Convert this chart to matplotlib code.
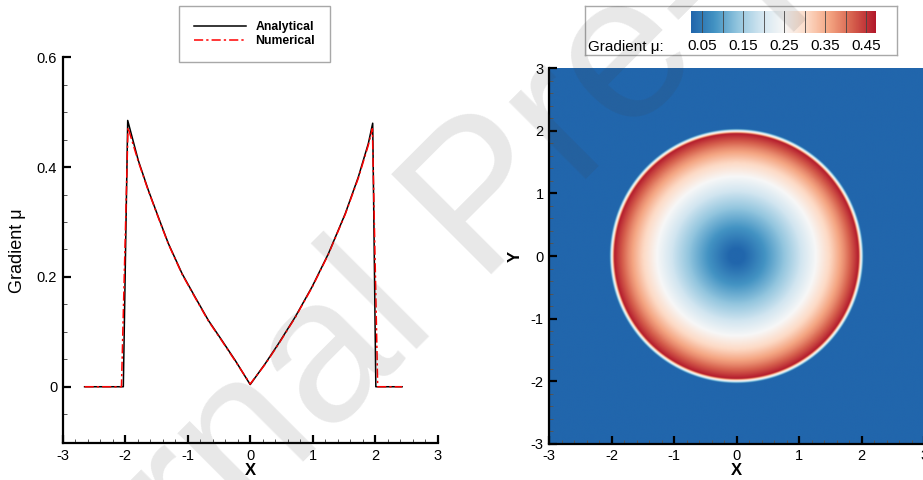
import numpy as np
import matplotlib.pyplot as plt
from matplotlib.colors import LinearSegmentedColormap
from matplotlib.ticker import MultipleLocator

plt.rcParams['font.family'] = ['Liberation Sans', 'DejaVu Sans']
plt.rcParams['axes.unicode_minus'] = False

# gradient profile along y = 0, exact solution
x_exact = [-2.65, -2.03, -1.96, -1.79, -1.63, -1.47, -1.31, -1.09, -0.88, -0.67,
           -0.45, -0.24, 0.0, 0.24, 0.45, 0.72, 0.99, 1.25, 1.52, 1.73, 1.89,
           1.96, 2.01, 2.43]
g_exact = [0.0, 0.0, 0.485, 0.412, 0.358, 0.309, 0.261, 0.206, 0.163, 0.121,
           0.084, 0.048, 0.004, 0.042, 0.078, 0.127, 0.182, 0.242, 0.315, 0.382,
           0.443, 0.480, 0.0, 0.0]

# same profile from the simulation
x_num = [-2.65, -2.06, -1.955, -1.79, -1.63, -1.47, -1.31, -1.09, -0.88, -0.67,
         -0.45, -0.24, 0.0, 0.24, 0.45, 0.72, 0.99, 1.25, 1.52, 1.73, 1.89,
         1.955, 2.04, 2.43]
g_num = [0.0, 0.0, 0.472, 0.410, 0.357, 0.308, 0.260, 0.205, 0.162, 0.120,
         0.083, 0.047, 0.005, 0.041, 0.077, 0.126, 0.181, 0.241, 0.314, 0.380,
         0.440, 0.470, 0.0, 0.0]

# radial profile of the simulated gradient used for the 2D field
r_map = [0.0, 0.24, 0.45, 0.72, 0.99, 1.25, 1.52, 1.73, 1.89, 1.955, 2.04, 4.5]
g_map = [0.004, 0.042, 0.078, 0.127, 0.182, 0.242, 0.315, 0.382, 0.443, 0.470, 0.0, 0.0]

cbar_levels = [0.05, 0.10, 0.15, 0.20, 0.25, 0.30, 0.35, 0.40, 0.45]
cbar_ticks = [0.05, 0.15, 0.25, 0.35, 0.45]
vmin, vmax = 0.022, 0.474

cmap = LinearSegmentedColormap.from_list(
    'bwr9', ['#2166ac', '#4393c3', '#92c5de', '#d1e5f0', '#f7f7f7',
             '#fddbc7', '#f4a582', '#d6604d', '#b2182b'])

W, H = 923, 480
fig = plt.figure(figsize=(W / 100, H / 100), dpi=100)


def style_axis(ax, ymajor, yminor):
    for s in ['top', 'right']:
        ax.spines[s].set_visible(False)
    for s in ['left', 'bottom']:
        ax.spines[s].set_linewidth(1.6)
    ax.xaxis.set_major_locator(MultipleLocator(1))
    ax.xaxis.set_minor_locator(MultipleLocator(0.2))
    ax.yaxis.set_major_locator(MultipleLocator(ymajor))
    ax.yaxis.set_minor_locator(MultipleLocator(yminor))
    ax.tick_params(which='major', direction='in', length=6, width=1.6,
                   labelsize=10.5, pad=4, top=False, right=False)
    ax.tick_params(which='minor', direction='in', length=3, width=0.7,
                   color='#555555', top=False, right=False)


# ---- left: line profiles ----
ax1 = fig.add_axes([62.7 / W, (H - 443.3) / H, 375 / W, 386 / H])
ax1.plot(x_exact, g_exact, color='black', lw=1.1, label='Analytical')
ax1.plot(x_num, g_num, color='red', lw=1.1, ls='-.', dashes=(6, 2, 1.5, 2),
         label='Numerical')
ax1.set_xlim(-3, 3)
ax1.set_ylim(-0.103, 0.6)
style_axis(ax1, 0.2, 0.05)
ax1.set_yticks([0, 0.2, 0.4, 0.6])
ax1.set_yticklabels(['0', '0.2', '0.4', '0.6'])
ax1.set_xlabel('X', fontsize=12, fontweight='bold', labelpad=0)
ax1.set_ylabel('Gradient \u03bc', fontsize=13, labelpad=8)
ax1.legend(loc='upper left', bbox_to_anchor=(179 / W, 1 - 6 / H),
           bbox_transform=fig.transFigure, borderaxespad=0, fancybox=False,
           edgecolor='#a8a8a8', framealpha=1,
           prop=dict(weight='bold', size=8.8), handlelength=4.2,
           handletextpad=0.8, borderpad=1.25, labelspacing=0.15)

# ---- right: gradient field ----
ax2 = fig.add_axes([549.3 / W, (H - 443.7) / H, 375 / W, 375.4 / H])
grid = np.linspace(-3, 3, 901)
gx, gy = np.meshgrid(grid, grid)
field = np.interp(np.hypot(gx, gy), r_map, g_map)
ax2.imshow(field, extent=[-3, 3, -3, 3], origin='lower', cmap=cmap,
           vmin=vmin, vmax=vmax, interpolation='bilinear', aspect='auto')
ax2.set_xlim(-3, 3)
ax2.set_ylim(-3, 3)
style_axis(ax2, 1, 0.2)
ax2.set_xlabel('X', fontsize=12, fontweight='bold', labelpad=0)
ax2.set_ylabel('Y', fontsize=12, fontweight='bold', labelpad=6)

# contour legend box
box = fig.add_axes([585 / W, (H - 55) / H, 312 / W, 49 / H])
box.set_xticks([])
box.set_yticks([])
for s in box.spines.values():
    s.set_edgecolor('#a8a8a8')
    s.set_linewidth(1.0)
box.text(3 / 312, 0.08, 'Gradient \u03bc:', transform=box.transAxes,
         fontsize=11, va='baseline', ha='left')

cax = fig.add_axes([691 / W, (H - 33.3) / H, 185 / W, 22.6 / H])
ramp = np.linspace(vmin, vmax, 400)[None, :]
cax.imshow(ramp, extent=[vmin, vmax, 0, 1], cmap=cmap, vmin=vmin, vmax=vmax,
           aspect='auto')
for lv in cbar_levels:
    cax.axvline(lv, color='#444444', lw=0.6)
cax.set_xlim(vmin, vmax)
cax.set_yticks([])
cax.set_xticks(cbar_ticks)
cax.set_xticklabels([f'{t:.2f}' for t in cbar_ticks], fontsize=11)
cax.tick_params(axis='x', length=0, pad=4)
for s in cax.spines.values():
    s.set_visible(False)

# journal watermark across the page
fig.text(-0.041, -0.672, 'Journal Pre-proof', rotation=45, rotation_mode='anchor',
         ha='left', va='baseline', fontsize=148, color='#404040', alpha=0.12,
         zorder=20)

fig.savefig('out.png', dpi=100)
